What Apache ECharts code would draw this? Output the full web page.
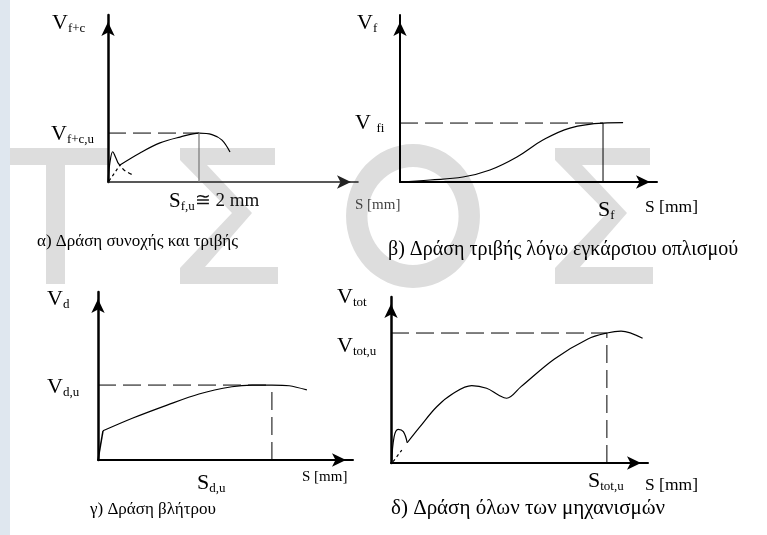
<!DOCTYPE html>
<html><head><meta charset="utf-8">
<script src="https://cdn.jsdelivr.net/npm/echarts@6/dist/echarts.min.js"></script>
<style>html,body{margin:0;padding:0;background:#fff}#c{width:767px;height:535px}</style>
</head><body><div id="c"></div>
<script>
// All panels use normalized units 0..100 on both axes (schematic diagram, no numeric scale)
// Panel α: cohesion + friction
const alphaHump = [[0,0],[0.8,12],[1.9,18.1],[2.8,15.6],[4,11.4]];
const alphaHumpTail = [[4,11.4],[6.4,7.2],[10,4.2]];
const alphaStart = [[0.4,0.6],[4.8,10.2]];
const alphaMain = [[4.8,10.2],[12.8,17.4],[20.8,23.4],[28.8,26.9],[36.4,29.3],[41.6,28.4],[45.6,25.1],[48.8,18.0]];
const alphaPeak = [36.4, 29.3];
// Panel β: friction due to transverse reinforcement
const betaCurve = [[0,0],[11.7,1.2],[24.5,3.0],[35,7.2],[45.5,15],[55.6,25.1],[66.1,32.3],[79,35.3],[86.8,35.5]];
const betaPeak = [79, 35.3];
// Panel γ: dowel action
const gammaCurve = [[0,0],[1.96,17.4]];
const gammaCurve2 = [[1.96,17.4],[13.7,25],[27.1,32.7],[39.6,39.3],[52.5,43.6],[60.4,44.6],[68.2,44.6],[75,44.2],[81.9,41.7]];
const gammaPeak = [68.2, 44.6];
// Panel δ: all mechanisms
const deltaHump = [[0.3,0.2],[1.2,15.8],[2.8,20.3],[4.8,18.9],[6.3,12.2]];
const deltaStart = [[0.8,0.8],[4.2,7.8]];
const deltaMain = [[6.3,12.2],[11.3,21.9],[17.8,33.9],[24.3,42.0],[31.4,46.6],[37.2,45.0],[41.8,41.0],[45.0,39.0],[50.6,46.0],[63.6,62.7],[76.6,74.7],[84.0,78.3],[89.5,79.5],[97.9,75.1]];
const deltaPeak = [84.0, 78.3];

const captions = ['α) Δράση συνοχής και τριβής','β) Δράση τριβής λόγω εγκάρσιου οπλισμού','γ) Δράση βλήτρου','δ) Δράση όλων των μηχανισμών'];

const SERIF = 'Liberation Serif';
const grids = [
  {left:108, top:15, width:250, height:167},
  {left:400, top:15, width:257, height:167},
  {left:98, top:292, width:255, height:168},
  {left:391, top:297, width:257, height:166}
];
function ax(i, w, c){
  return {gridIndex:i, type:'value', min:0, max:100,
    axisLine:{show:true, onZero:false, lineStyle:{color:c||'#000', width:w}, symbol:['none','arrow'], symbolSize:[10,14], symbolOffset:[0,-7]},
    axisTick:{show:false}, axisLabel:{show:false}, splitLine:{show:false}};
}
function ln(i, data, opt){
  opt = opt || {};
  return {type:'line', xAxisIndex:i, yAxisIndex:i, data:data, symbol:'none', smooth: opt.smooth===undefined?0.35:opt.smooth,
    silent:true, animation:false, z:5,
    lineStyle:{color: opt.color||'#000', width: opt.width||1.2, type: opt.type||'solid'}};
}
function hline(p){ return [[0,p[1]],[p[0],p[1]]]; }
function vline(p){ return [[p[0],0],[p[0],p[1]]]; }
const DASH = [18,7];

const series = [
  ln(0, alphaHump, {smooth:0.4}),
  ln(0, alphaHumpTail, {type:[4,3], smooth:0.3}),
  ln(0, alphaStart, {type:[3,3], smooth:false}),
  ln(0, alphaMain),
  ln(0, hline(alphaPeak), {type:DASH, smooth:false, width:1}),
  ln(0, vline(alphaPeak), {smooth:false, width:1.2, color:'#777'}),
  ln(1, betaCurve, {smooth:0.4}),
  ln(1, hline(betaPeak), {type:DASH, smooth:false, width:1}),
  ln(1, vline(betaPeak), {smooth:false, width:1}),
  ln(2, gammaCurve, {smooth:false, width:1.5}),
  ln(2, gammaCurve2, {smooth:0.3}),
  ln(2, hline(gammaPeak), {type:DASH, smooth:false, width:1}),
  ln(2, vline(gammaPeak), {type:DASH, smooth:false, width:1}),
  ln(3, deltaHump, {smooth:0.4}),
  ln(3, deltaStart, {type:[3,3], smooth:false}),
  ln(3, deltaMain, {smooth:0.35}),
  ln(3, hline(deltaPeak), {type:DASH, smooth:false, width:1}),
  ln(3, vline(deltaPeak), {type:DASH, smooth:false, width:1})
];

function lbl(x, y, main, sub, extra, size){
  size = size || 22;
  let t = '{m|' + main + '}';
  if (sub) t += '{s|' + sub + '}';
  if (extra) t += '{t|' + extra + '}';
  return {type:'text', x:x, y:y, z:100, silent:true, style:{text:t, align:'left', verticalAlign:'top',
    rich:{
      m:{fontSize:size, fontFamily:SERIF, fill:'#000', lineHeight:size+2},
      s:{fontSize:13, fontFamily:SERIF, fill:'#000', lineHeight:10, verticalAlign:'bottom'},
      t:{fontSize:19, fontFamily:SERIF, fill:'#111', lineHeight:size+2}
    }}};
}
function plain(x, y, text, size, color){
  return {type:'text', x:x, y:y, z:100, silent:true, style:{text:text, fontSize:size, fontFamily:SERIF, fill:color||'#000', align:'left', verticalAlign:'top'}};
}
const WM = '#dddddd';
function sigma(dx){
  const p = [[180,148],[275,148],[275,165],[207,165],[252,213],[205,267],[278,267],[278,284],[180,284],[180,268],[232,213],[180,160]];
  return {type:'polygon', z:-10, silent:true, shape:{points:p.map(q=>[q[0]+dx,q[1]])}, style:{fill:WM}};
}
const graphic = [
  {type:'rect', z:-5, silent:true, shape:{x:0,y:0,width:10,height:535}, style:{fill:'#dfe7ef'}},
  {type:'rect', z:-10, silent:true, shape:{x:0,y:148,width:108,height:17}, style:{fill:WM}},
  {type:'rect', z:-10, silent:true, shape:{x:46,y:165,width:19,height:119}, style:{fill:WM}},
  sigma(0), sigma(375),
  {type:'ring', z:-10, silent:true, x:413, y:216, scaleX:0.93, shape:{cx:0,cy:0,r:72,r0:49}, style:{fill:WM}},
  lbl(52, 11, 'V', 'f+c'),
  lbl(51, 122, 'V', 'f+c,u'),
  lbl(169, 190, 'S', 'f,u', '≅ 2 mm', 21),
  plain(355, 198, 'S [mm]', 15, '#444'),
  plain(37, 233, captions[0], 17),
  lbl(357, 11, 'V', 'f'),
  lbl(355, 111, 'V ', 'fi'),
  lbl(598, 198, 'S', 'f'),
  plain(645, 198, 'S [mm]', 17.5),
  plain(388, 240, captions[1], 20),
  lbl(47, 287, 'V', 'd'),
  lbl(47, 375, 'V', 'd,u'),
  lbl(197, 471, 'S', 'd,u'),
  plain(302, 470, 'S [mm]', 15),
  plain(90, 501, captions[2], 17),
  lbl(337, 285, 'V', 'tot'),
  lbl(337, 334, 'V', 'tot,u'),
  lbl(588, 469, 'S', 'tot,u'),
  plain(645, 476, 'S [mm]', 17.5),
  plain(391, 498, captions[3], 21)
];

const chart = echarts.init(document.getElementById('c'), null, {renderer:'canvas', width:767, height:535});
chart.setOption({
  backgroundColor:'#fff',
  animation:false,
  grid: grids,
  xAxis: [ax(0,1.6,'#222'), ax(1,2), ax(2,2), ax(3,2)],
  yAxis: [ax(0,2.5), ax(1,2), ax(2,2.5), ax(3,2.5)],
  series: series,
  graphic: graphic
});
</script></body></html>
